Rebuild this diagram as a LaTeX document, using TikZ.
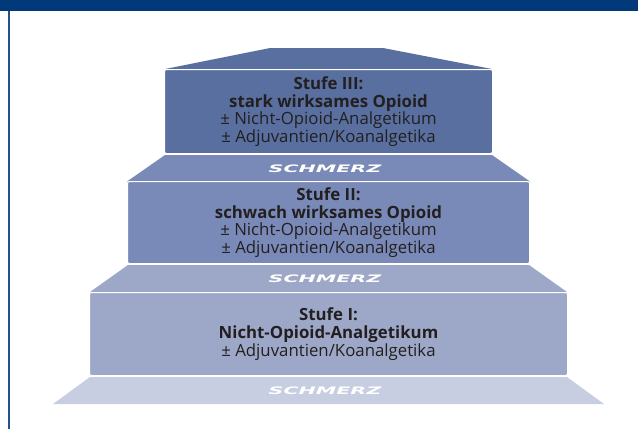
\documentclass[tikz,border=0pt]{standalone}
\usepackage{fontspec}
\setmainfont{Open Sans}
\newfontfamily\schmfont{DejaVu Sans}
\definecolor{navy}{HTML}{02397A}
\definecolor{navyline}{HTML}{24508F}
\definecolor{cthree}{HTML}{596FA0}
\definecolor{ctwo}{HTML}{7A8AB8}
\definecolor{cone}{HTML}{9DA8C8}
\definecolor{czero}{HTML}{C8CEE2}
\definecolor{txt}{HTML}{231F20}
\tikzset{
  box/.style={draw=white, line width=1pt, rounded corners=2pt, text=txt, align=center,
    font=\fontsize{16.8}{17.7}\selectfont, inner sep=0pt},
  pain/.style={text=white, inner sep=0pt,
    font=\schmfont\bfseries\itshape\fontsize{10.3}{12}\selectfont},
}
\newcommand{\painlabel}{\scalebox{2.0}[1]{SCHMERZ}}
\begin{document}
\begin{tikzpicture}[x=1pt,y=-1pt]
\useasboundingbox (0,0) rectangle (638,429);
\fill[white] (0,0) rectangle (638,429);
% header and frame
\fill[navy] (0,0) rectangle (638,11);
\fill[navyline] (8,11) rectangle (10,429);
% roof
\fill[cthree] (165,69) -- (270,48) -- (383,48) -- (492,69) -- cycle;
% bands
\fill[ctwo] (165,155) -- (492,155) -- (530,181.5) -- (127,181.5) -- cycle;
\fill[cone] (128,265) -- (529,265) -- (567,292) -- (90,292) -- cycle;
\fill[czero] (90,377) -- (567,377) -- (604,404) -- (53,404) -- cycle;
% boxes
\node[box, fill=cthree, minimum width=328pt, minimum height=84pt] (s3) at (328.5,111.5)
  {\textbf{Stufe III:}\\ \textbf{stark wirksames Opioid}\\ ± Nicht-Opioid-Analgetikum\\ ± Adjuvantien/Koanalgetika};
\node[box, fill=ctwo, minimum width=402pt, minimum height=82pt] (s2) at (328.5,222.5)
  {\textbf{Stufe II:}\\ \textbf{schwach wirksames Opioid}\\ ± Nicht-Opioid-Analgetikum\\ ± Adjuvantien/Koanalgetika};
\node[box, fill=cone, minimum width=478pt, minimum height=83pt] (s1) at (328.5,334)
  {\textbf{Stufe I:}\\ \textbf{Nicht-Opioid-Analgetikum}\\ ± Adjuvantien/Koanalgetika};
% pain labels
\node[pain] (p3) at (325,168.5) {\painlabel};
\node[pain] (p2) at (325,278.5) {\painlabel};
\node[pain] (p1) at (325,390.5) {\painlabel};
\end{tikzpicture}
\end{document}
